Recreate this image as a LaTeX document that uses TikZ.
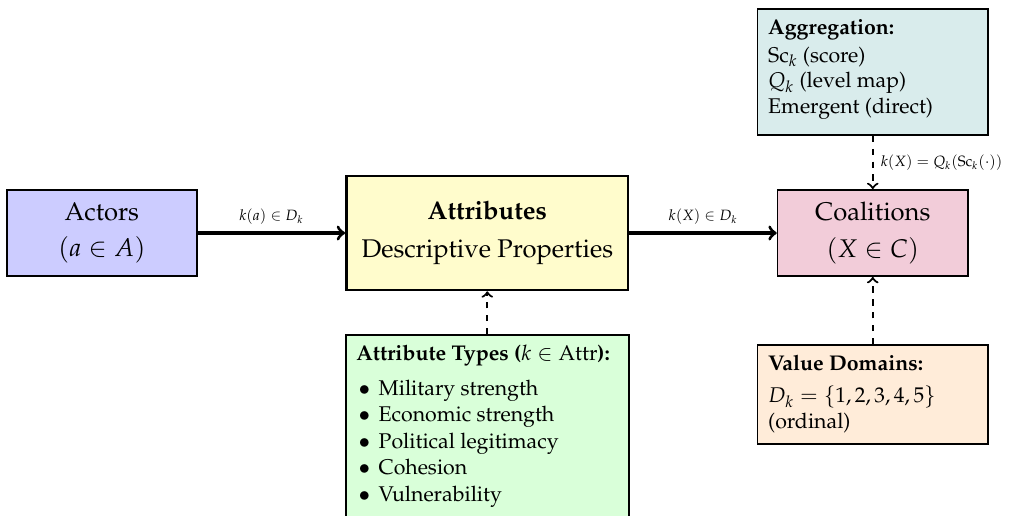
\documentclass[tikz,border=0pt]{standalone}
\usepackage[T1]{fontenc}
\usepackage{mathpazo}

\begin{document}
\begin{tikzpicture}[
  mainbox/.style={draw, thick, font=\large, align=center, minimum width=3.14cm, minimum height=1.42cm},
  infobox/.style={draw, thick, inner sep=5pt},
  flow/.style={->, line width=1.5pt},
  feed/.style={->, line width=1pt, dashed},
  edgelabel/.style={font=\scriptsize}]
  \useasboundingbox (0, 0) rectangle (16.78, -8.5);
  \node[mainbox, fill=blue!20] (actors) at (1.68, -3.845) {Actors\\[3pt]$(a \in A)$};
  \node[mainbox, fill=yellow!20, very thick, minimum width=4.65cm, minimum height=1.88cm] (attr) at (8.04, -3.845) {\textbf{Attributes}\\[4pt]Descriptive Properties};
  \node[mainbox, fill=purple!20] (coal) at (14.4, -3.845) {Coalitions\\[3pt]$(X \in C)$};
  \node[infobox, fill=teal!15] (agg) at (14.4, -1.19) {\parbox[c][1.73cm][t]{3.45cm}{\textbf{Aggregation:}\\[1pt]
    Sc$_k$ (score)\\
    $Q_k$ (level map)\\
    Emergent (direct)}};
  \node[infobox, fill=orange!15] (domains) at (14.4, -6.51) {\parbox[c][1.29cm][t]{3.45cm}{\textbf{Value Domains:}\\[3pt]
    $D_k = \{1, 2, 3, 4, 5\}$\\
    (ordinal)}};
  \node[infobox, fill=green!15, anchor=north] (types) at (8.04, -5.51) {\parbox{4.32cm}{\textbf{Attribute Types ($k \in \mathrm{Attr}$):}\\[4pt]
    \hspace*{1pt}$\bullet$\hspace{4pt}Military strength\\[0.5pt]
    \hspace*{1pt}$\bullet$\hspace{4pt}Economic strength\\[0.5pt]
    \hspace*{1pt}$\bullet$\hspace{4pt}Political legitimacy\\[0.5pt]
    \hspace*{1pt}$\bullet$\hspace{4pt}Cohesion\\[0.5pt]
    \hspace*{1pt}$\bullet$\hspace{4pt}Vulnerability\\[4pt]}};
  \draw[flow] (actors) -- node[above, edgelabel] {$k(a) \in D_k$} (attr);
  \draw[flow] (attr) -- node[above, edgelabel] {$k(X) \in D_k$} (coal);
  \draw[feed] (agg) -- node[right, edgelabel] {$k(X) = Q_k(\mathrm{Sc}_k(\cdot))$} (coal);
  \draw[feed] (domains) -- (coal);
  \draw[feed] (types) -- (attr);
\end{tikzpicture}
\end{document}
